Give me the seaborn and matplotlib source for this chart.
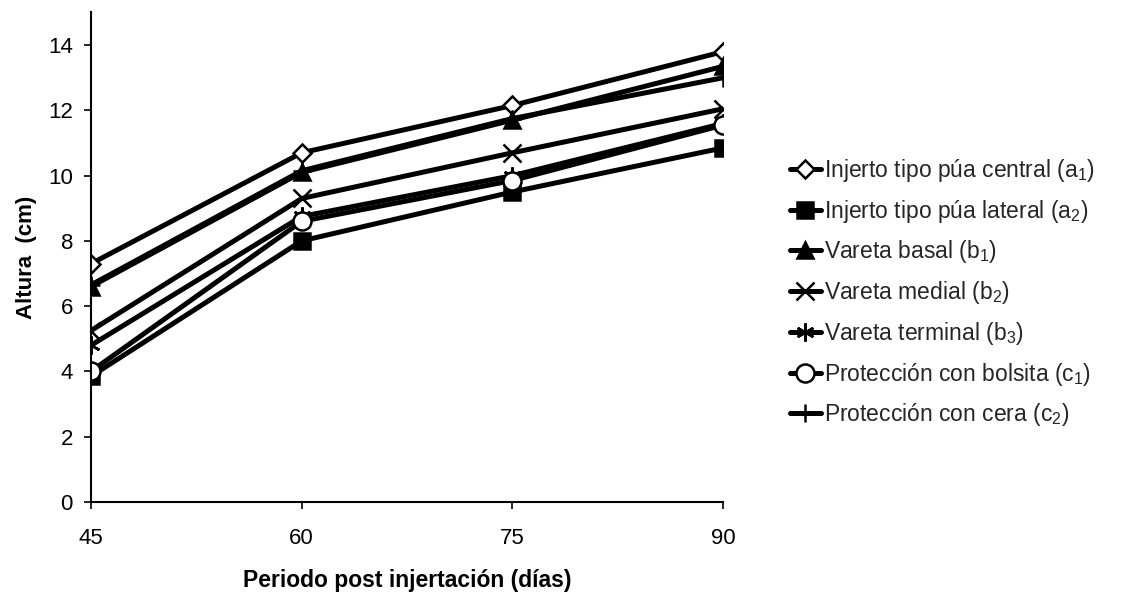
import numpy as np
import pandas as pd
import matplotlib
matplotlib.use("Agg")
import matplotlib.pyplot as plt
import seaborn as sns

# Days after grafting
dias = [45, 60, 75, 90]

# Mean plant height (cm) for each treatment
a1 = [7.30, 10.70, 12.15, 13.80]   # Injerto tipo púa central
a2 = [3.85, 8.00, 9.50, 10.85]     # Injerto tipo púa lateral
b1 = [6.60, 10.10, 11.70, 13.35]   # Vareta basal
b2 = [5.25, 9.30, 10.70, 12.05]    # Vareta medial
b3 = [4.80, 8.75, 10.00, 11.60]    # Vareta terminal
c1 = [4.00, 8.60, 9.85, 11.55]     # Protección con bolsita
c2 = [6.65, 10.15, 11.75, 13.00]   # Protección con cera

etiquetas = [
    "Injerto tipo púa central (a$_1$)",
    "Injerto tipo púa lateral (a$_2$)",
    "Vareta basal (b$_1$)",
    "Vareta medial (b$_2$)",
    "Vareta terminal (b$_3$)",
    "Protección con bolsita (c$_1$)",
    "Protección con cera (c$_2$)",
]
series = [a1, a2, b1, b2, b3, c1, c2]

sns.set_theme(style="white")
plt.rcParams["font.family"] = ["Liberation Sans", "DejaVu Sans"]
plt.rcParams["mathtext.fontset"] = "custom"
plt.rcParams["mathtext.rm"] = "Liberation Sans"
plt.rcParams["mathtext.it"] = "Liberation Sans"

df = pd.concat(
    [pd.DataFrame({"dias": dias, "altura": v, "serie": lab}) for lab, v in zip(etiquetas, series)],
    ignore_index=True,
)

# marker, marker size, face colour, edge colour
estilos = {
    etiquetas[0]: dict(marker="D", ms=9, mfc="white", mec="black"),
    etiquetas[1]: dict(marker="s", ms=12, mfc="black", mec="black"),
    etiquetas[2]: dict(marker="^", ms=12, mfc="black", mec="black"),
    etiquetas[3]: dict(marker="x", ms=13, mfc="black", mec="black"),
    etiquetas[4]: dict(marker=(6, 2, 0), ms=13, mfc="black", mec="black"),
    etiquetas[5]: dict(marker="o", ms=13, mfc="white", mec="black"),
    etiquetas[6]: dict(marker="+", ms=13, mfc="black", mec="black"),
}

fig = plt.figure(figsize=(11.23, 5.94), dpi=100)
ax = fig.add_axes([0.081, 0.155, 0.563, 0.824])

for lab in etiquetas:
    st = estilos[lab]
    sub = df[df["serie"] == lab]
    sns.lineplot(
        data=sub, x="dias", y="altura", ax=ax, color="black",
        linewidth=3.6, marker=st["marker"], markersize=st["ms"],
        markerfacecolor=st["mfc"], markeredgecolor=st["mec"],
        markeredgewidth=1.8, label=lab, legend=False,
    )

ax.set_xlim(45, 90)
ax.set_ylim(0, 15)
ax.set_xticks(dias)
ax.set_yticks(np.arange(0, 15, 2))
ax.tick_params(axis="both", labelsize=16, colors="black", length=5, width=1.2,
               direction="out", bottom=True, left=True, pad=8)
ax.tick_params(axis="x", pad=14)
for s in ["top", "right"]:
    ax.spines[s].set_visible(False)
for s in ["left", "bottom"]:
    ax.spines[s].set_color("black")
    ax.spines[s].set_linewidth(1.5)

ax.set_xlabel("Periodo post injertación (días)", fontsize=16.5, fontweight="bold",
              labelpad=14, color="black")
ax.set_ylabel("Altura  (cm)", fontsize=16, fontweight="bold", labelpad=8, color="black")

handles, labels = ax.get_legend_handles_labels()
fig.legend(handles, labels, loc="upper left", bbox_to_anchor=(0.693, 0.755),
           frameon=False, fontsize=16.5, handlelength=1.35, handletextpad=0.15,
           labelspacing=0.6, borderpad=0)

fig.savefig("out.png", dpi=100, facecolor="white")
